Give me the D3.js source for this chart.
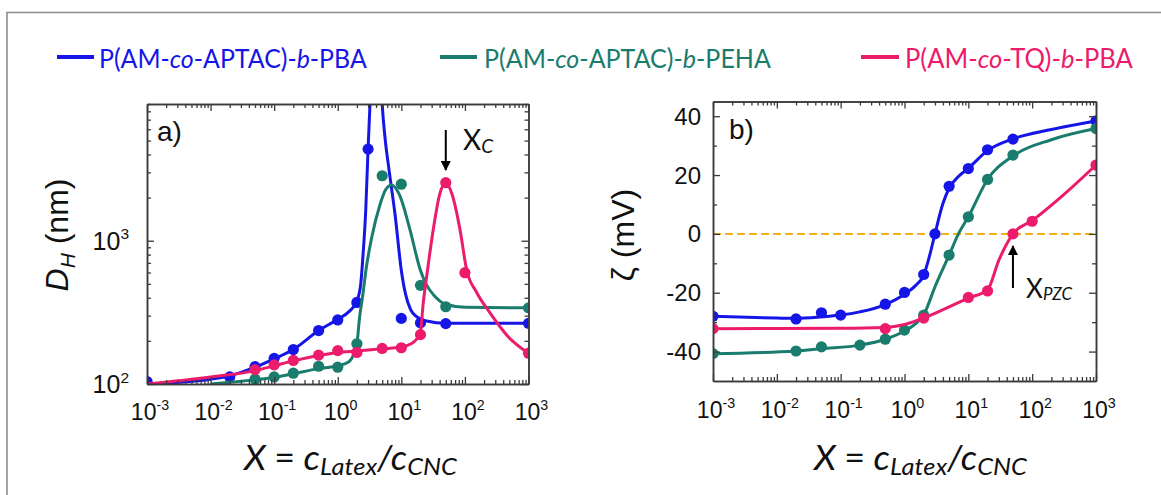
<!DOCTYPE html>
<html lang="en">
<head>
<meta charset="utf-8">
<title>Latex / CNC size and zeta potential</title>
<script src="https://d3js.org/d3.v7.min.js"></script>
<style>
  body { margin: 0; background: #fff; }
  svg { display: block; }
  .ax .domain { stroke: #3a3a3a; stroke-width: 1.5; }
  .ax .tick line { stroke: #3a3a3a; stroke-width: 1.3; }
  .arial { font-family: "Liberation Sans", Arial, sans-serif; fill: #111; }
  .cal { font-family: Lato, "Open Sans", sans-serif; }
</style>
</head>
<body>
<div id="chart"></div>
<script>
// ---- panel a) D_H (nm) against X, measured points
const aBlueX = [0.001, 0.02, 0.05, 0.1, 0.2, 0.5, 1, 2, 3, 10, 20, 50, 1000];
const aBlueY = [104, 112, 132, 151, 174, 236, 280, 371, 4360, 287, 267, 264, 265];
const aTealX = [0.05, 0.1, 0.2, 0.5, 1, 2, 5, 10, 20, 50, 1000];
const aTealY = [108, 112, 119, 133, 131, 191, 2840, 2480, 488, 346, 340];
const aPinkX = [0.05, 0.1, 0.2, 0.5, 1, 2, 5, 10, 20, 50, 100, 1000];
const aPinkY = [126, 136, 146, 159, 171, 166, 177, 179, 221, 2540, 598, 164];

// panel a) fitted curves (read off the picture)
const aBlueFitX = [0.001, 0.01, 0.02, 0.05, 0.1, 0.2, 0.5, 1, 1.5, 2, 2.3, 2.5, 2.75, 3, 3.2, 3.4, 4, 4.7, 5, 5.6, 6.3, 8, 10, 11.7, 14, 17.4, 25, 50, 1000];
const aBlueFitY = [100, 108, 114, 131, 150, 174, 236, 283, 320, 380, 500, 800, 1600, 4400, 8500, 16000, 30000, 16000, 9000, 5000, 3300, 1500, 620, 420, 330, 295, 275, 265, 265];
const aTealFitX = [0.01, 0.05, 0.1, 0.2, 0.5, 1, 1.5, 2, 2.2, 2.48, 2.8, 3.4, 4.6, 5.6, 7, 9.4, 13.5, 20, 25, 32, 50, 100, 1000];
const aTealFitY = [100, 107, 111, 118, 128, 134, 143, 192, 290, 420, 640, 1040, 1775, 2250, 2450, 2080, 1220, 620, 490, 420, 360, 343, 340];
const aPinkFitX = [0.001, 0.01, 0.05, 0.1, 0.2, 0.5, 1, 2, 5, 10, 14, 17, 20, 22, 25, 32, 40, 50, 63, 83, 107, 151, 251, 479, 1000];
const aPinkFitY = [100, 112, 124, 134, 145, 158, 166, 170, 176, 181, 190, 203, 230, 360, 560, 1220, 2100, 2540, 2100, 1220, 620, 440, 311, 214, 164];

// ---- panel b) zeta potential (mV) against X, measured points
const bBlueX = [0.001, 0.02, 0.05, 0.1, 0.5, 1, 2, 3, 5, 10, 20, 50, 1000];
const bBlueY = [-28.0, -28.9, -26.8, -27.6, -23.9, -19.9, -13.8, 0, 16.2, 22.2, 28.6, 32.2, 38.4];
const bTealX = [0.001, 0.02, 0.05, 0.2, 0.5, 1, 2, 5, 10, 20, 50, 1000];
const bTealY = [-40.7, -39.8, -38.4, -37.8, -35.8, -32.7, -27.6, -7.2, 5.8, 18.5, 26.8, 35.8];
const bPinkX = [0.001, 0.5, 2, 10, 20, 50, 100, 1000];
const bPinkY = [-32.2, -32.2, -28.6, -21.6, -19.4, 0, 4.3, 23.4];

// panel b) fitted curves
const bBlueFitX = [0.001, 0.01, 0.02, 0.05, 0.1, 0.2, 0.5, 1, 1.5, 2, 2.5, 3, 4, 5, 7, 10, 20, 50, 200, 1000];
const bBlueFitY = [-28.0, -28.6, -28.7, -28.2, -27.6, -26.5, -24.0, -20.5, -17.5, -14.0, -7, 0, 10.3, 15.5, 19.5, 22.3, 28.3, 32.3, 35.5, 38.4];
const bTealFitX = [0.001, 0.02, 0.05, 0.2, 0.5, 1, 1.5, 2, 3, 5, 7, 10, 20, 50, 200, 1000];
const bTealFitY = [-40.7, -39.8, -39.0, -37.8, -35.8, -33, -30.5, -27.5, -18, -7.2, 0, 5.8, 18.5, 26.5, 32, 35.8];
const bPinkFitX = [0.001, 0.1, 0.5, 1, 2, 5, 10, 20, 30, 50, 100, 300, 1000];
const bPinkFitY = [-32.2, -32.1, -31.8, -30.8, -28.6, -24.8, -21.8, -19.0, -9, 0, 4.5, 13, 23.4];

// axis ticks
const xMajor = [1e-3, 1e-2, 1e-1, 1, 10, 100, 1000];
const xMinor = [];
for (let e = -3; e < 3; e++) for (let k = 2; k < 10; k++) xMinor.push(k * Math.pow(10, e));
const aYMajor = [100, 1000];
const aYMinor = [200, 300, 400, 500, 600, 700, 800, 900, 2000, 3000, 4000, 5000, 6000, 7000, 8000, 9000];
const bYMajor = [-40, -20, 0, 20, 40];
const bYMinor = [-30, -10, 10, 30];

const seriesNames = ['P(AM-co-APTAC)-b-PBA', 'P(AM-co-APTAC)-b-PEHA', 'P(AM-co-TQ)-b-PBA'];
const colors = ['#1515e8', '#1a7c6d', '#ec1b6b'];

const W = 1161, H = 495;
const svg = d3.select('#chart').append('svg').attr('width', W).attr('height', H);

// squeeze a text horizontally so it spans `width` px from x
function fitWidth(t, x, y, width) {
  const len = t.node().getComputedTextLength();
  t.attr('transform', 'translate(' + x + ',' + y + ') scale(' + (width / len) + ',1)');
}

// grey frame (left and top edges visible)
svg.append('path').attr('d', 'M7,495 V12.5 H1161').attr('fill', 'none')
  .attr('stroke', '#8c8c8c').attr('stroke-width', 1.6);

// legend
const legX = [[57, 94, 99, 268], [440, 477, 484, 287], [861, 899, 905, 228]];
seriesNames.forEach(function(name, i){
  const p = legX[i];
  svg.append('line').attr('x1', p[0]).attr('x2', p[1]).attr('y1', 57).attr('y2', 57)
    .attr('stroke', colors[i]).attr('stroke-width', 4);
  const t = svg.append('text').attr('class', 'cal').attr('font-size', 26).attr('fill', colors[i]);
  // italic parts "co" and "b"
  const parts = name.split(/(co|-b-)/);
  parts.forEach(function(s){
    if (s === 'co') t.append('tspan').attr('font-style', 'italic').text('co');
    else if (s === '-b-') { t.append('tspan').text('-'); t.append('tspan').attr('font-style', 'italic').text('b'); t.append('tspan').text('-'); }
    else if (s) t.append('tspan').text(s);
  });
  fitWidth(t, p[2], 68, p[3]);
});

function drawAxes(g, x, y, yMaj, yMin, left, right, top, bottom) {
  const ax = g.append('g').attr('class', 'ax');
  ax.append('g').attr('transform', 'translate(0,' + bottom + ')').call(d3.axisBottom(x).tickValues(xMajor).tickSize(-7).tickSizeOuter(0).tickFormat(''));
  ax.append('g').attr('transform', 'translate(0,' + bottom + ')').call(d3.axisBottom(x).tickValues(xMinor).tickSize(-4).tickSizeOuter(0).tickFormat(''));
  ax.append('g').attr('transform', 'translate(0,' + top + ')').call(d3.axisTop(x).tickValues(xMajor).tickSize(-7).tickSizeOuter(0).tickFormat(''));
  ax.append('g').attr('transform', 'translate(0,' + top + ')').call(d3.axisTop(x).tickValues(xMinor).tickSize(-4).tickSizeOuter(0).tickFormat(''));
  ax.append('g').attr('transform', 'translate(' + left + ',0)').call(d3.axisLeft(y).tickValues(yMaj).tickSize(-7).tickSizeOuter(0).tickFormat(''));
  ax.append('g').attr('transform', 'translate(' + left + ',0)').call(d3.axisLeft(y).tickValues(yMin).tickSize(-4).tickSizeOuter(0).tickFormat(''));
  ax.append('g').attr('transform', 'translate(' + right + ',0)').call(d3.axisRight(y).tickValues(yMaj).tickSize(-7).tickSizeOuter(0).tickFormat(''));
  ax.append('g').attr('transform', 'translate(' + right + ',0)').call(d3.axisRight(y).tickValues(yMin).tickSize(-4).tickSizeOuter(0).tickFormat(''));
}

function powLabel(g, px, py, e, size, anchor) {
  const t = g.append('text').attr('class', 'arial').attr('x', px).attr('y', py)
    .attr('font-size', size).attr('text-anchor', anchor);
  t.append('tspan').text('10');
  t.append('tspan').attr('font-size', size * 0.62).attr('dy', -size * 0.42).text(e);
}

function drawPanel(id, x, y) {
  const g = svg.append('g');
  const [x0, x1] = x.range(), [y0, y1] = y.range();
  svg.append('clipPath').attr('id', id).append('rect')
    .attr('x', x0).attr('y', y1).attr('width', x1 - x0).attr('height', y0 - y1);
  const plot = g.append('g').attr('clip-path', 'url(#' + id + ')');
  return {g: g, plot: plot};
}

function drawSeries(plot, x, y, fx, fy, px, py, color) {
  const line = d3.line().x(function(d){ return x(d[0]); }).y(function(d){ return y(d[1]); })
    .curve(d3.curveMonotoneX);
  plot.append('path').datum(fx.map(function(v, i){ return [v, fy[i]]; }))
    .attr('d', line).attr('fill', 'none').attr('stroke', color)
    .attr('stroke-width', 3).attr('stroke-linejoin', 'round');
  plot.selectAll(null).data(px.map(function(v, i){ return [v, py[i]]; })).enter()
    .append('circle').attr('cx', function(d){ return x(d[0]); }).attr('cy', function(d){ return y(d[1]); })
    .attr('r', 5.6).attr('fill', color);
}

// ---------- panel a
const xa = d3.scaleLog().domain([1e-3, 1e3]).range([147, 528.5]);
const ya = d3.scaleLog().domain([100, 9000]).range([384, 104]);
const pa = drawPanel('clipA', xa, ya);
drawSeries(pa.plot, xa, ya, aBlueFitX, aBlueFitY, aBlueX, aBlueY, colors[0]);
drawSeries(pa.plot, xa, ya, aTealFitX, aTealFitY, aTealX, aTealY, colors[1]);
drawSeries(pa.plot, xa, ya, aPinkFitX, aPinkFitY, aPinkX, aPinkY, colors[2]);
drawAxes(pa.g, xa, ya, aYMajor, aYMinor, 147, 528.5, 104, 384);
xMajor.forEach(function(v){ powLabel(pa.g, xa(v) + 3, 420, Math.round(Math.log10(v)), 23, 'middle'); });
aYMajor.forEach(function(v){ powLabel(pa.g, 129, ya(v) + 9, Math.round(Math.log10(v)), 25, 'end'); });

// ---------- panel b
const xb = d3.scaleLog().domain([1e-3, 1e3]).range([713, 1096]);
const yb = d3.scaleLinear().domain([-50, 45]).range([381, 101.5]);
const pb = drawPanel('clipB', xb, yb);
pb.plot.append('line').attr('x1', 713).attr('x2', 1096).attr('y1', yb(0)).attr('y2', yb(0))
  .attr('stroke', '#f2b11f').attr('stroke-width', 2).attr('stroke-dasharray', '8,4');
drawSeries(pb.plot, xb, yb, bBlueFitX, bBlueFitY, bBlueX, bBlueY, colors[0]);
drawSeries(pb.plot, xb, yb, bTealFitX, bTealFitY, bTealX, bTealY, colors[1]);
drawSeries(pb.plot, xb, yb, bPinkFitX, bPinkFitY, bPinkX, bPinkY, colors[2]);
drawAxes(pb.g, xb, yb, bYMajor, bYMinor, 713, 1096, 101.5, 381);
xMajor.forEach(function(v){ powLabel(pb.g, xb(v) + 3, 418, Math.round(Math.log10(v)), 23, 'middle'); });
bYMajor.forEach(function(v){
  pb.g.append('text').attr('class', 'arial').attr('x', 701).attr('y', yb(v) + 8.5)
    .attr('font-size', 24).attr('text-anchor', 'end').text(v);
});

// panel letters
svg.append('text').attr('class', 'arial').attr('x', 157).attr('y', 141).attr('font-size', 28).text('a)');
svg.append('text').attr('class', 'arial').attr('x', 729).attr('y', 139).attr('font-size', 28).text('b)');

// y axis titles
const ta = svg.append('text').attr('class', 'arial').attr('font-size', 32).attr('text-anchor', 'middle')
  .attr('transform', 'translate(68,235) rotate(-90)');
ta.append('tspan').attr('font-style', 'italic').text('D');
ta.append('tspan').attr('font-style', 'italic').attr('font-size', 21).attr('dy', 7).text('H');
ta.append('tspan').attr('dy', -7).text(' (nm)');
svg.append('text').attr('class', 'arial').attr('font-size', 32).attr('text-anchor', 'middle')
  .attr('transform', 'translate(634,235) rotate(-90)').text('\u03B6 (mV)');

// x axis titles
[[244, 213], [814, 213]].forEach(function(p){
  const t = svg.append('text').attr('class', 'cal')
    .attr('font-size', 34).attr('fill', '#111').attr('font-style', 'italic');
  t.append('tspan').text('X ');
  t.append('tspan').attr('font-style', 'normal').text('=');
  t.append('tspan').text(' c');
  t.append('tspan').attr('font-size', 24).attr('dy', 5).text('Latex');
  t.append('tspan').attr('dy', -5).text('/c');
  t.append('tspan').attr('font-size', 24).attr('dy', 5).text('CNC');
  fitWidth(t, p[0], 470, p[1]);
});

// arrows and annotations
const defs = svg.append('defs');
defs.append('marker').attr('id', 'head').attr('viewBox', '0 0 10 10').attr('refX', 9).attr('refY', 5)
  .attr('markerWidth', 10).attr('markerHeight', 10).attr('markerUnits', 'userSpaceOnUse')
  .attr('orient', 'auto').append('path').attr('d', 'M0,0 L10,5 L0,10 Z').attr('fill', '#000');
svg.append('line').attr('x1', xa(50)).attr('x2', xa(50)).attr('y1', 130).attr('y2', 170)
  .attr('stroke', '#000').attr('stroke-width', 2).attr('marker-end', 'url(#head)');
svg.append('line').attr('x1', xb(50)).attr('x2', xb(50)).attr('y1', 288).attr('y2', 246)
  .attr('stroke', '#000').attr('stroke-width', 2).attr('marker-end', 'url(#head)');
const xc = svg.append('text').attr('class', 'cal').attr('x', 463).attr('y', 150).attr('font-size', 28).attr('fill', '#111');
xc.append('tspan').text('X');
xc.append('tspan').attr('font-size', 19).attr('font-style', 'italic').attr('dy', 3).text('C');
const xp = svg.append('text').attr('class', 'cal').attr('x', 1026).attr('y', 298).attr('font-size', 26).attr('fill', '#111');
xp.append('tspan').text('X');
xp.append('tspan').attr('font-size', 17).attr('font-style', 'italic').attr('dy', 2).text('PZC');
</script>
</body>
</html>
